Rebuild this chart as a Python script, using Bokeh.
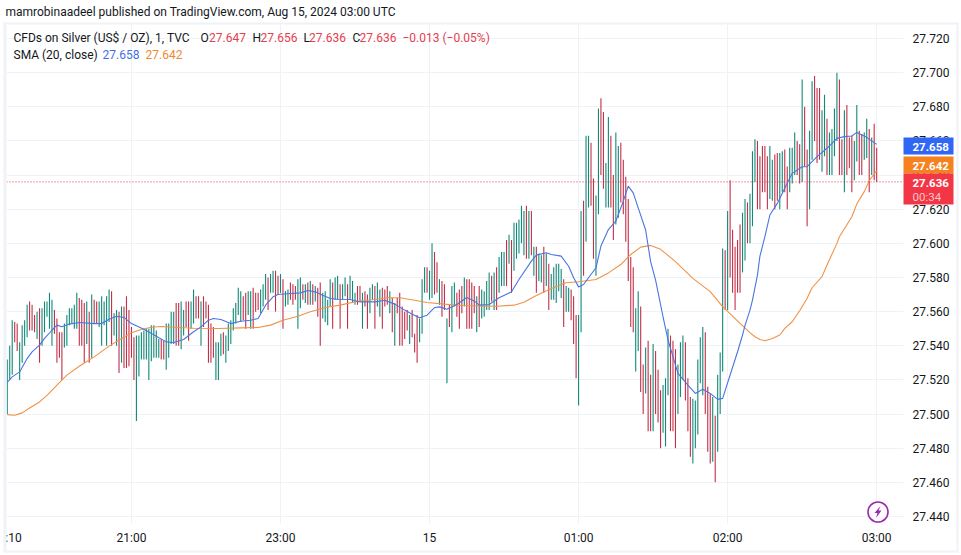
from bokeh.plotting import figure
from bokeh.layouts import column
from bokeh.models import Range1d, FixedTicker, Label, Span
from bokeh.embed import file_html
from bokeh.resources import INLINE

title_text = "mamrobinaadeel published on TradingView.com, Aug 15, 2024 03:00 UTC"

highs = [27.532,27.540,27.555,27.554,27.553,27.542,27.552,27.555,27.564,27.566,27.564,27.558,27.560,27.562,27.562,27.566,27.566,27.571,27.567,27.561,
27.556,27.548,27.548,27.553,27.558,27.562,27.562,27.564,27.571,27.568,27.567,27.565,27.566,27.560,27.570,27.567,27.566,27.566,27.569,27.566,
27.569,27.573,27.572,27.559,27.561,27.560,27.563,27.563,27.569,27.561,27.551,27.545,27.546,27.546,27.548,27.549,27.550,27.550,27.552,27.552,
27.549,27.544,27.544,27.543,27.553,27.553,27.560,27.560,27.565,27.565,27.566,27.561,27.566,27.566,27.566,27.573,27.569,27.569,27.566,27.569,
27.566,27.564,27.553,27.551,27.542,27.542,27.547,27.548,27.546,27.553,27.555,27.562,27.565,27.574,27.572,27.569,27.571,27.572,27.572,27.574,
27.571,27.571,27.573,27.576,27.582,27.580,27.582,27.584,27.584,27.581,27.582,27.579,27.572,27.573,27.577,27.576,27.575,27.579,27.580,27.576,
27.576,27.577,27.578,27.576,27.575,27.574,27.577,27.571,27.572,27.567,27.579,27.577,27.580,27.581,27.576,27.576,27.580,27.576,27.581,27.578,
27.571,27.575,27.575,27.571,27.572,27.570,27.574,27.576,27.575,27.577,27.573,27.574,27.573,27.575,27.572,27.568,27.565,27.568,27.571,27.563,
27.560,27.561,27.558,27.561,27.547,27.558,27.556,27.579,27.586,27.586,27.584,27.600,27.595,27.589,27.579,27.578,27.576,27.556,27.564,27.575,
27.577,27.571,27.573,27.575,27.580,27.579,27.579,27.577,27.575,27.569,27.575,27.573,27.572,27.578,27.583,27.581,27.583,27.586,27.592,27.595,
27.595,27.602,27.605,27.602,27.612,27.612,27.614,27.622,27.619,27.622,27.619,27.619,27.598,27.598,27.594,27.593,27.598,27.594,27.588,27.582,
27.586,27.588,27.588,27.585,27.579,27.575,27.574,27.573,27.569,27.558,27.558,27.619,27.625,27.663,27.663,27.659,27.638,27.628,27.679,27.685,
27.677,27.647,27.674,27.663,27.640,27.665,27.657,27.659,27.649,27.639,27.626,27.592,27.586,27.562,27.572,27.563,27.529,27.539,27.543,27.523,
27.541,27.537,27.526,27.514,27.517,27.521,27.550,27.546,27.543,27.538,27.529,27.542,27.546,27.542,27.521,27.510,27.509,27.508,27.532,27.545,
27.551,27.548,27.516,27.512,27.510,27.499,27.523,27.536,27.597,27.596,27.619,27.637,27.608,27.598,27.602,27.611,27.618,27.626,27.624,27.629,
27.654,27.661,27.660,27.651,27.657,27.657,27.651,27.657,27.649,27.652,27.653,27.653,27.654,27.655,27.645,27.656,27.656,27.665,27.660,27.658,
27.696,27.680,27.655,27.666,27.695,27.698,27.691,27.691,27.678,27.687,27.673,27.665,27.667,27.679,27.700,27.696,27.661,27.678,27.681,27.662,
27.663,27.660,27.681,27.666,27.664,27.665,27.673,27.667,27.662,27.670,27.656]

lows = [27.500,27.520,27.523,27.542,27.537,27.520,27.530,27.540,27.545,27.549,27.549,27.548,27.544,27.530,27.540,27.548,27.557,27.550,27.540,27.547,
27.530,27.533,27.520,27.539,27.540,27.552,27.553,27.550,27.550,27.540,27.540,27.530,27.541,27.530,27.533,27.553,27.553,27.551,27.540,27.552,
27.540,27.554,27.540,27.546,27.540,27.524,27.530,27.527,27.527,27.528,27.533,27.520,27.496,27.522,27.532,27.532,27.532,27.520,27.531,27.533,
27.533,27.533,27.532,27.532,27.526,27.533,27.541,27.541,27.540,27.540,27.538,27.546,27.551,27.543,27.550,27.553,27.556,27.556,27.540,27.551,
27.556,27.530,27.530,27.533,27.520,27.520,27.534,27.535,27.530,27.537,27.541,27.549,27.553,27.558,27.554,27.555,27.550,27.558,27.550,27.550,
27.560,27.561,27.559,27.563,27.567,27.561,27.571,27.571,27.560,27.570,27.571,27.550,27.563,27.564,27.567,27.564,27.567,27.550,27.562,27.567,
27.565,27.564,27.564,27.564,27.566,27.557,27.540,27.556,27.554,27.552,27.563,27.550,27.567,27.567,27.550,27.567,27.569,27.550,27.567,27.565,
27.564,27.564,27.566,27.550,27.563,27.550,27.559,27.567,27.550,27.563,27.557,27.550,27.563,27.564,27.559,27.548,27.540,27.559,27.540,27.540,
27.544,27.549,27.541,27.545,27.536,27.530,27.542,27.547,27.571,27.571,27.567,27.568,27.570,27.571,27.564,27.557,27.561,27.518,27.551,27.548,
27.563,27.557,27.550,27.559,27.563,27.550,27.550,27.550,27.559,27.548,27.551,27.556,27.557,27.561,27.561,27.566,27.561,27.561,27.571,27.575,
27.575,27.575,27.588,27.571,27.584,27.591,27.594,27.600,27.593,27.591,27.591,27.593,27.581,27.571,27.578,27.577,27.571,27.575,27.561,27.567,
27.567,27.565,27.572,27.568,27.551,27.560,27.560,27.555,27.541,27.521,27.505,27.548,27.581,27.601,27.621,27.622,27.591,27.581,27.617,27.640,
27.632,27.621,27.621,27.621,27.602,27.611,27.615,27.624,27.617,27.601,27.578,27.551,27.548,27.525,27.537,27.513,27.500,27.512,27.490,27.490,
27.490,27.500,27.495,27.480,27.489,27.481,27.511,27.490,27.490,27.480,27.500,27.510,27.520,27.508,27.490,27.475,27.471,27.480,27.488,27.518,
27.511,27.500,27.478,27.471,27.472,27.460,27.478,27.500,27.525,27.561,27.561,27.580,27.571,27.561,27.571,27.571,27.583,27.590,27.600,27.600,
27.610,27.636,27.620,27.620,27.630,27.630,27.620,27.626,27.625,27.620,27.625,27.620,27.630,27.630,27.620,27.630,27.635,27.640,27.640,27.635,
27.636,27.645,27.610,27.620,27.649,27.660,27.647,27.649,27.642,27.651,27.640,27.640,27.640,27.651,27.660,27.640,27.640,27.630,27.640,27.644,
27.630,27.637,27.648,27.640,27.640,27.649,27.650,27.630,27.640,27.637,27.636]

# 1 = rising bar, 0 = falling bar
ups = [1,1,1,0,0,1,1,1,1,0,0,0,1,0,1,1,1,1,1,0,
0,0,0,1,1,1,1,1,1,0,0,0,1,0,1,0,0,1,1,1,
1,1,0,1,1,0,1,0,0,0,0,0,1,1,1,1,1,1,1,1,
1,1,0,0,1,1,1,1,0,0,1,1,0,0,1,1,0,0,1,0,
0,0,0,0,1,1,1,0,1,1,1,1,1,1,1,0,0,1,1,0,
0,0,1,1,1,0,1,1,0,0,1,0,1,1,0,0,0,1,1,0,
1,0,1,0,1,0,0,1,1,1,1,0,1,1,0,1,1,0,1,1,
1,0,0,1,0,0,1,1,0,1,1,0,0,0,1,0,1,0,0,0,
0,0,1,0,0,0,1,1,1,0,1,1,0,0,1,0,0,1,0,1,
1,0,0,0,1,0,0,0,0,1,0,1,1,1,1,0,1,0,1,1,
1,0,1,0,1,1,1,1,1,0,1,0,1,0,1,1,0,1,0,1,
1,1,1,1,0,1,1,0,0,0,1,1,0,1,1,0,0,1,1,0,
0,1,1,0,0,1,1,0,0,0,0,0,0,1,1,0,0,1,0,0,
1,0,0,0,1,1,1,0,0,0,1,1,1,0,0,0,1,1,1,1,
1,0,0,0,1,0,1,1,1,0,1,0,0,0,0,0,1,1,0,1,
1,1,0,0,0,0,0,1,1,0,0,1,1,0,0,1,1,1,0,0,
1,0,0,1,1,0,0,0,1,1,0,1,1,1,1,0,0,1,0,0,
0,1,1,0,0,1,1,0,1,0,0]

sma_blue_idx = [0,2,5,8,10,13,15,18,20,22,25,29,35,38,41,44,47,50,55,60,64,67,71,75,78,81,83,86,90,94,
98,101,104,107,109,114,118,121,124,127,130,133,138,142,148,152,156,160,163,166,169,172,174,177,181,185,188,190,
194,198,203,206,211,213,217,219,223,226,228,230,232,237,239,242,245,248,250,252,254,
257,259,261,264,266,268,270,274,277,280,283,286,288,291,294,296,297,299,300,302,303,305,307,310,314,316,320,322,326,330,334,337,340,342,346,350]
sma_blue = [27.5185,27.5218,27.5247,27.5325,27.5364,27.5404,27.5443,27.5491,27.5521,27.5511,27.5527,27.5536,27.553,27.553,27.5556,27.5573,27.5566,27.553,27.5497,27.5456,27.5423,27.5419,27.5437,27.5482,27.5511,27.555,27.556,27.5554,27.553,27.5544,
27.555,27.556,27.5638,27.5687,27.57,27.5706,27.571,27.5724,27.5716,27.5696,27.5677,27.5673,27.5671,27.5657,27.5657,27.5667,27.5644,27.5609,27.5585,27.5564,27.5579,27.5624,27.5628,27.5614,27.5642,27.5683,27.5663,27.5638,
27.5642,27.5681,27.5716,27.5788,27.5896,27.5931,27.5945,27.5935,27.5925,27.5866,27.5798,27.5745,27.5759,27.5857,27.5984,27.6081,27.613,27.6247,27.6335,27.6296,27.6208,
27.6078,27.5893,27.5785,27.557,27.5434,27.5336,27.5238,27.517,27.5121,27.5145,27.5121,27.5086,27.5092,27.5229,27.5365,27.5463,27.552,27.5609,27.5668,27.5814,27.5925,27.6039,27.6166,27.6234,27.6352,27.641,27.6449,27.6449,27.6508,27.6557,27.6615,27.6625,27.6629,27.665,27.6621,27.658]

sma_orange_idx = [0,3,6,9,13,16,20,24,29,35,41,46,50,54,58,62,68,75,85,94,
101,106,111,117,122,128,134,141,148,153,158,164,169,176,183,190,
197,204,208,213,219,225,230,237,242,247,251,255,259,263,269,276,283,288,295,299,301,303,305,308,311,313,316,319,322,324,328,330,334,335,340,342,345,347,350]
sma_orange = [27.4997,27.4993,27.5007,27.5036,27.5071,27.511,27.5169,27.5228,27.528,27.5335,27.5398,27.5443,27.5476,27.5495,27.5509,27.5513,27.5509,27.5503,27.5501,27.5505,
27.5507,27.5521,27.555,27.5573,27.5599,27.5624,27.5638,27.5661,27.5671,27.5681,27.5681,27.5667,27.5654,27.5644,27.5636,27.5634,
27.5632,27.5638,27.5655,27.5694,27.5736,27.5769,27.5775,27.5788,27.5827,27.5876,27.5935,27.5978,27.5988,27.5965,27.5893,27.5795,27.5717,27.5629,27.5531,27.5477,27.5453,27.5437,27.543,27.5443,27.5463,27.5502,27.5541,27.5605,27.5678,27.574,27.5805,27.5873,27.6,27.6039,27.6156,27.623,27.6303,27.6367,27.6426]

price_ticks = [27.44,27.46,27.48,27.50,27.52,27.54,27.56,27.58,27.60,27.62,27.64,27.66,27.68,27.70,27.72]
time_ticks = [2.5,50,110,170,230,290,350]
time_labels = [":10","21:00","23:00","15","01:00","02:00","03:00"]
grid_times = [50,110,170,230,290,350]

last_price = 27.636
sma_last_blue = 27.658
sma_last_orange = 27.642

UP = "#0f8a78"
DOWN = "#c22f47"
BLUE = "#4a74e0"
ORANGE = "#ef9248"
INK = "#131722"
FONT = "Roboto"
BAND = "#eff2f6"

W, H = 961, 555
L, R, T, B = 6, 903, 24, 523
YTOP, YBOT = 27.7282, 27.4359

p = figure(width=W, height=H, output_backend="svg", toolbar_location=None,
           x_range=Range1d(-0.3, 360.8), y_range=Range1d(YBOT, YTOP),
           min_border_left=L, min_border_right=W-R, min_border_top=T, min_border_bottom=H-B,
           y_axis_location="right", outline_line_color=None,
           background_fill_color="white", border_fill_color="white")
p.frame_align = False

for ax in (p.xaxis[0], p.yaxis[0]):
    ax.axis_line_color = None
    ax.major_tick_line_color = None
    ax.minor_tick_line_color = None
    ax.major_label_text_color = INK
    ax.major_label_text_font = FONT
    ax.major_label_text_font_size = "12px"

p.yaxis[0].ticker = FixedTicker(ticks=price_ticks)
p.yaxis[0].major_label_overrides = {t: f"{t:.3f}" for t in price_ticks}
p.yaxis[0].major_label_standoff = 3
p.xaxis[0].ticker = FixedTicker(ticks=time_ticks)
p.xaxis[0].major_label_overrides = dict(zip(time_ticks, time_labels))
p.xaxis[0].major_label_standoff = 1

p.xgrid[0].ticker = FixedTicker(ticks=grid_times)
p.ygrid[0].ticker = FixedTicker(ticks=price_ticks)
p.xgrid[0].grid_line_color = "#f0f3f6"
p.ygrid[0].grid_line_color = "#f0f3f6"

idx = list(range(len(highs)))
cols = [UP if u else DOWN for u in ups]
p.segment(idx, highs, idx, lows, line_color=cols, line_width=1.1)
p.line(sma_orange_idx, sma_orange, line_color=ORANGE, line_width=1.1)
p.line(sma_blue_idx, sma_blue, line_color=BLUE, line_width=1.1)
p.add_layout(Span(location=last_price, dimension="width", line_color="#d9384c", line_width=1, line_dash="1 2"))

# transparent page-sized layer for the title, legend, frame and price tags
ov = figure(width=W, height=H, output_backend="svg", toolbar_location=None,
            x_range=Range1d(0, W), y_range=Range1d(H, 0), x_axis_type=None, y_axis_type=None,
            min_border_left=0, min_border_right=0, min_border_top=0, min_border_bottom=0,
            outline_line_color=None, background_fill_alpha=0, border_fill_alpha=0,
            margin=(-H, 0, 0, 0))
ov.frame_align = False
ov.grid.visible = False

for l, r, t, b in [(3, 958, 22, 24), (3, 6, 22, 552), (3, 958, 550, 552), (956, 958, 22, 552)]:
    ov.quad(left=l, right=r, top=t, bottom=b, fill_color=BAND, line_color=None)

def txt(s, x, y, color=INK, size="12px", style="normal"):
    ov.add_layout(Label(x=x, y=y, text=s, text_color=color, text_font=FONT, text_font_size=size,
                        text_font_style=style, text_baseline="middle", text_align="left"))

RED = "#e5404f"
txt(title_text, 5, 11, size="12px")
txt("CFDs on Silver (US$ / OZ), 1, TVC", 13, 37)
for s, x, c in [("O",200,INK),("27.647",208.5,RED),("H",252,INK),("27.656",260,RED),("L",303,INK),("27.636",308.5,RED),
                ("C",352,INK),("27.636",359,RED),("\u22120.013 (\u22120.05%)",402,RED)]:
    txt(s, x, 37, c)
txt("SMA (20, close)", 13, 54)
txt(f"{sma_last_blue:.3f}", 102, 54, "#3f6fe6")
txt(f"{sma_last_orange:.3f}", 145, 54, "#ef8a33")

ov.quad(left=903, right=953, top=137, bottom=154, fill_color="#2f66f5", line_color=None)
ov.quad(left=903, right=953, top=156, bottom=173, fill_color="#f5821f", line_color=None)
ov.quad(left=903, right=953, top=173, bottom=204, fill_color="#f23645", line_color=None)
txt(f"{sma_last_blue:.3f}", 912, 146, "white", size="11.5px", style="bold")
txt(f"{sma_last_orange:.3f}", 912, 165, "white", size="11.5px", style="bold")
txt(f"{last_price:.3f}", 912, 182, "white", size="11.5px", style="bold")
txt("00:34", 912, 196, "#ffc4ca", size="11.5px")

# purple badge
ov.scatter([877.5], [511.5], size=20, marker="circle", fill_color="white", line_color="#9c27b0", line_width=1.6)
bx, by = 877.5, 511.5
ov.patch([bx+2.5, bx-3.5, bx-0.5, bx-2, bx+3.5, bx+0.5], [by-6, by+1, by+1, by+6, by-1.5, by-1.5],
         fill_color="#9c27b0", line_color=None)

root = column(p, ov, width=W, height=H, styles={"position": "absolute", "left": "0px", "top": "0px"})
open("out.html", "w").write(file_html(root, INLINE))
